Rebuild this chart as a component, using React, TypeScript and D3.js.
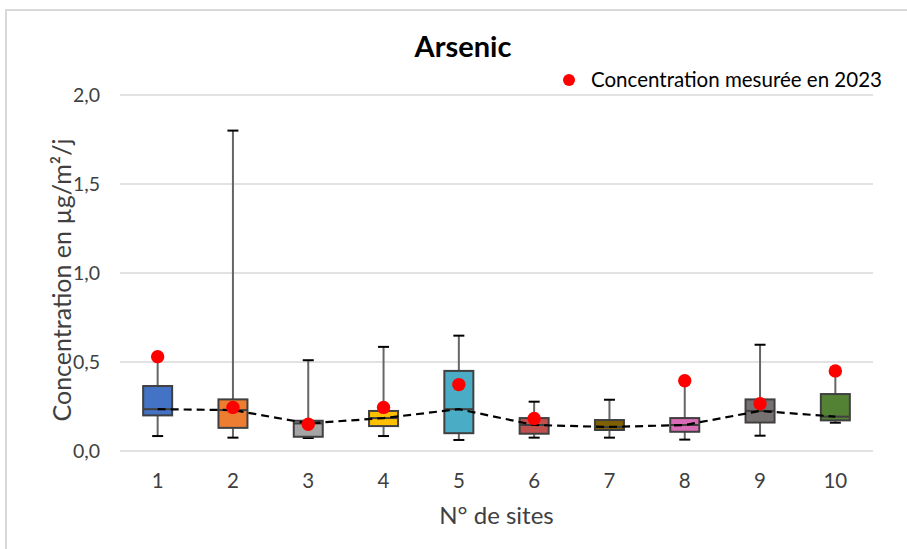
import React, { useRef, useEffect } from "react";
import * as d3 from "d3";

const sites = ["1", "2", "3", "4", "5", "6", "7", "8", "9", "10"];
const whiskerLow = [0.084, 0.075, 0.073, 0.084, 0.062, 0.075, 0.075, 0.064, 0.086, 0.159];
const q1 = [0.2, 0.13, 0.08, 0.14, 0.1, 0.097, 0.118, 0.108, 0.16, 0.172];
const medians = [0.235, 0.23, 0.155, 0.185, 0.235, 0.146, 0.135, 0.146, 0.225, 0.193];
const q3 = [0.365, 0.29, 0.17, 0.225, 0.45, 0.185, 0.174, 0.185, 0.29, 0.32];
const whiskerHigh = [0.53, 1.8, 0.51, 0.585, 0.648, 0.277, 0.288, 0.395, 0.597, 0.45];
const measured2023 = [0.53, 0.245, 0.15, 0.245, 0.373, 0.183, null, 0.395, 0.266, 0.45];
const boxColors = ["#4472C4", "#ED7D31", "#A5A5A5", "#FFC000", "#4BACC6", "#C0504D", "#7F6000", "#DA6CB6", "#767171", "#548235"];
const yTicks = [0, 0.5, 1, 1.5, 2];

const W = 907;
const H = 549;
const margin = { top: 95, right: 34, bottom: 98, left: 120 };

const App = () => {
  const svgRef = useRef<SVGSVGElement>(null);

  useEffect(() => {
    const svg = d3.select(svgRef.current);
    svg.selectAll("*").remove();
    const font = "Lato, 'Open Sans', sans-serif";

    // frame
    svg.append("rect").attr("x", 6).attr("y", 10).attr("width", W + 10).attr("height", H)
      .attr("fill", "#fff").attr("stroke", "#d9d9d9").attr("stroke-width", 2);

    const x = d3.scaleBand().domain(sites).range([margin.left, W - margin.right]);
    const y = d3.scaleLinear().domain([0, 2]).range([H - margin.bottom, margin.top]);
    const plotMid = (margin.left + W - margin.right) / 2;

    // gridlines
    svg.append("g").selectAll("line").data(yTicks).enter().append("line")
      .attr("x1", margin.left).attr("x2", W - margin.right)
      .attr("y1", (d) => y(d)).attr("y2", (d) => y(d))
      .attr("stroke", "#d9d9d9").attr("stroke-width", 1.5);

    // y labels
    svg.append("g").selectAll("text").data(yTicks).enter().append("text")
      .attr("x", 100).attr("y", (d) => y(d) + 7).attr("text-anchor", "end")
      .attr("font-family", font).attr("font-size", 19.5).attr("fill", "#404040")
      .text((d) => d3.format(".1f")(d).replace(".", ","));

    // x labels
    svg.append("g").selectAll("text").data(sites).enter().append("text")
      .attr("x", (d) => x(d)! + x.bandwidth() / 2).attr("y", 488).attr("text-anchor", "middle")
      .attr("font-family", font).attr("font-size", 20.5).attr("fill", "#404040")
      .text((d) => d);

    const bw = 29;
    const capW = 11;
    const g = svg.append("g");
    sites.forEach((s, i) => {
      const cx = x(s)! + x.bandwidth() / 2;
      // whiskers
      g.append("line").attr("x1", cx).attr("x2", cx).attr("y1", y(whiskerHigh[i])).attr("y2", y(q3[i]))
        .attr("stroke", "#666").attr("stroke-width", 2);
      g.append("line").attr("x1", cx).attr("x2", cx).attr("y1", y(whiskerLow[i])).attr("y2", y(q1[i]))
        .attr("stroke", "#666").attr("stroke-width", 2);
      [whiskerHigh[i], whiskerLow[i]].forEach((v) => {
        g.append("line").attr("x1", cx - capW / 2).attr("x2", cx + capW / 2).attr("y1", y(v)).attr("y2", y(v))
          .attr("stroke", "#000").attr("stroke-width", 2);
      });
      // box
      g.append("rect").attr("x", cx - bw / 2).attr("y", y(q3[i])).attr("width", bw)
        .attr("height", y(q1[i]) - y(q3[i])).attr("fill", boxColors[i])
        .attr("stroke", "#404040").attr("stroke-width", 2);
      g.append("line").attr("x1", cx - bw / 2).attr("x2", cx + bw / 2)
        .attr("y1", y(medians[i])).attr("y2", y(medians[i]))
        .attr("stroke", "#404040").attr("stroke-width", 2);
    });

    // median dashed line
    const line = d3.line<number>()
      .x((d, i) => x(sites[i])! + x.bandwidth() / 2)
      .y((d) => y(d));
    svg.append("path").attr("d", line(medians)).attr("fill", "none")
      .attr("stroke", "#000").attr("stroke-width", 2.2).attr("stroke-dasharray", "8,5");

    // measured points
    svg.append("g").selectAll("circle")
      .data(measured2023.map((v, i) => ({ v, s: sites[i] })).filter((d) => d.v !== null))
      .enter().append("circle")
      .attr("cx", (d) => x(d.s)! + x.bandwidth() / 2).attr("cy", (d) => y(d.v as number))
      .attr("r", 6.7).attr("fill", "#FF0000");

    // title
    svg.append("text").attr("x", 463).attr("y", 57).attr("text-anchor", "middle")
      .attr("font-family", font).attr("font-size", 29).attr("font-weight", "bold").attr("fill", "#000")
      .text("Arsenic");

    // legend
    svg.append("circle").attr("cx", 569).attr("cy", 80).attr("r", 6).attr("fill", "#FF0000");
    svg.append("text").attr("x", 591).attr("y", 87).attr("font-family", font).attr("font-size", 20.5)
      .attr("fill", "#000").text("Concentration mesurée en 2023");

    // axis titles
    svg.append("text").attr("x", plotMid).attr("y", 524).attr("text-anchor", "middle")
      .attr("font-family", font).attr("font-size", 24).attr("fill", "#404040").text("N° de sites");
    svg.append("text").attr("transform", `translate(71,${280}) rotate(-90)`).attr("text-anchor", "middle")
      .attr("font-family", font).attr("font-size", 25).attr("fill", "#404040").text("Concentration en µg/m²/j");
  }, []);

  return (
    <svg ref={svgRef} width={W} height={H} style={{ position: "absolute", left: 0, top: 0 }} />
  );
};

export default App;
